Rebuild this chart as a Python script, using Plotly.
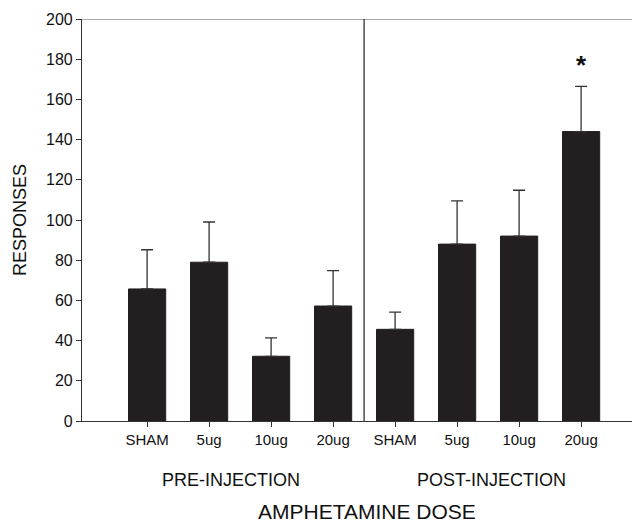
import plotly.graph_objects as go

categories = ["SHAM", "5ug", "10ug", "20ug", "SHAM", "5ug", "10ug", "20ug"]
means = [65.7, 79.0, 32.2, 57.2, 45.6, 88.0, 92.0, 144.0]
sem = [19.5, 20.0, 9.2, 17.6, 8.6, 21.5, 22.8, 22.5]
groups = ["PRE-INJECTION", "POST-INJECTION"]
y_ticks = [0, 20, 40, 60, 80, 100, 120, 140, 160, 180, 200]

xpos = list(range(len(categories)))
FONT = "Liberation Sans, Arial, sans-serif"
DARK = "#231f20"

fig = go.Figure()
fig.add_trace(go.Bar(
    x=xpos, y=means, width=0.6,
    marker=dict(color=DARK, line=dict(color=DARK, width=1)),
    error_y=dict(type="data", symmetric=False, array=sem, arrayminus=[0]*len(sem),
                 color="#333333", thickness=1.3, width=6),
    showlegend=False,
))

# page body has an 8px margin: the figure is sized and offset to compensate
fig.update_layout(
    width=632, height=515,
    margin=dict(l=74, r=0, t=11, b=102, autoexpand=False),
    plot_bgcolor="white", paper_bgcolor="white",
    font=dict(family=FONT, color="#111111"),
    xaxis=dict(range=[-1.05, 7.95], tickmode="array", tickvals=xpos, ticktext=categories,
               showline=True, linecolor="#333333", linewidth=1.2, ticks="outside",
               ticklen=5, tickcolor="#333333", showgrid=False, zeroline=False,
               tickfont=dict(size=15, family=FONT)),
    yaxis=dict(range=[0, 200], tickvals=y_ticks, showline=True, linecolor="#333333",
               linewidth=1.2, ticks="outside", ticklen=5, tickcolor="#333333",
               showgrid=False, zeroline=False, tickfont=dict(size=16, family=FONT),
               title=dict(text="RESPONSES", font=dict(size=18, family=FONT), standoff=14)),
)

# top border and divider
fig.add_shape(type="line", xref="paper", yref="y", x0=0, x1=1, y0=200, y1=200,
              line=dict(color="#555555", width=1.2))
fig.add_shape(type="line", xref="x", yref="y", x0=3.5, x1=3.5, y0=0, y1=200,
              line=dict(color="#222222", width=1.2))

fig.add_annotation(x=1.35, y=-0.147, xref="x", yref="paper", text=groups[0], showarrow=False,
                   font=dict(size=18, family=FONT), yanchor="middle")
fig.add_annotation(x=5.56, y=-0.147, xref="x", yref="paper", text=groups[1], showarrow=False,
                   font=dict(size=18, family=FONT), yanchor="middle")
fig.add_annotation(x=3.55, y=-0.226, xref="x", yref="paper", text="AMPHETAMINE DOSE", showarrow=False,
                   font=dict(size=21, family=FONT), yanchor="middle")
fig.add_annotation(x=7, y=177, xref="x", yref="y", text="<b>*</b>", showarrow=False,
                   font=dict(size=26, family=FONT), yanchor="middle")

fig.write_html("out.html")
